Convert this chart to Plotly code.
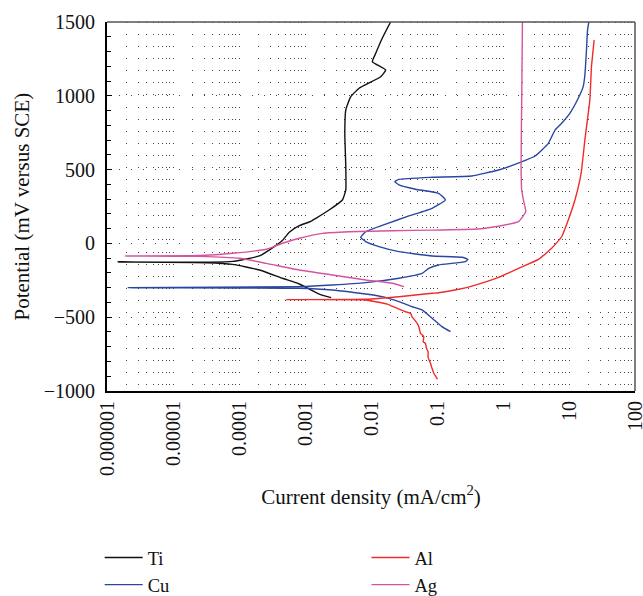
import plotly.graph_objects as go

# ---- data: current density (mA/cm^2) and potential (mV vs SCE) ----
ti_i = [2.49e-3, 1.64e-3, 1.16e-3, 8.18e-4, 4.54e-4, 2.04e-4, 7.98e-5, 3.23e-5, 1.47e-6,
        3.23e-5, 7.98e-5, 2.04e-4, 3.21e-4, 4.54e-4, 5.78e-4, 8.18e-4, 1.16e-3, 1.46e-3,
        2.32e-3, 3.69e-3, 4.15e-3, 4.15e-3, 4.01e-3, 4.15e-3, 4.94e-3, 6.59e-3, 1.40e-2,
        1.67e-2, 1.05e-2, 1.18e-2, 1.48e-2, 1.98e-2]
ti_e = [-367, -343, -309, -275, -236, -180, -142, -131, -126,
        -127, -122, -85, -30, 20, 75, 120, 145, 170,
        226, 294, 362, 520, 746, 904, 994, 1051, 1129,
        1175, 1231, 1288, 1390, 1500]

cu_i = [0.160, 0.119, 0.0841, 0.0594, 0.0420, 0.0265, 0.0148, 8.32e-3, 2.61e-3, 8.18e-4, 2.10e-6,
        8.18e-4, 2.61e-3, 8.32e-3, 0.0265, 0.0594, 0.0750, 0.106, 0.269, 0.294, 0.239,
        0.0841, 0.0265, 0.0132, 8.32e-3, 7.00e-3, 8.32e-3, 0.0167, 0.0375, 0.0841, 0.134,
        0.106, 0.0473, 0.0265, 0.0230, 0.0265, 0.0841, 0.338, 0.855, 1.82, 3.06,
        4.86, 6.14, 7.73, 10.3, 13.8, 16.4, 17.4, 18.4, 19.1, 20.0]
cu_e = [-598, -564, -507, -451, -429, -395, -361, -343, -316, -304, -300,
        -293, -282, -266, -236, -203, -169, -146, -124, -108, -94,
        -85, -56, -22, 12, 41, 79, 131, 186, 238, 294,
        339, 367, 396, 418, 434, 448, 457, 497, 549, 592,
        678, 768, 814, 881, 983, 1062, 1141, 1310, 1446, 1500]

al_i = [0.1016, 0.0948, 0.0893, 0.0841, 0.0796, 0.0733, 0.0733, 0.0692, 0.0668, 0.0617,
        0.0631, 0.0562, 0.0531, 0.0500, 0.0420, 0.0397, 0.0334, 0.0236, 0.0176, 0.0118,
        8.32e-3, 5.15e-4,
        8.32e-3, 0.0265, 0.0841, 0.106, 0.213, 0.338, 0.855, 1.71, 3.44, 5.46,
        7.73, 9.75, 12.3, 14.6, 15.5, 17.4, 20.7, 21.9, 23.2, 24.0]
al_e = [-919, -898, -880, -846, -812, -772, -734, -711, -677, -666,
        -632, -609, -564, -541, -497, -474, -463, -435, -411, -395,
        -383, -381,
        -378, -361, -338, -334, -311, -289, -230, -169, -108, -33,
        45, 159, 294, 429, 497, 701, 972, 1197, 1310, 1378]

ag_i = [0.0315, 0.0210, 8.32e-3, 2.61e-3, 8.18e-4, 2.58e-4, 1.02e-4, 2.54e-5, 1.87e-6,
        2.54e-5, 8.05e-5, 2.58e-4, 4.58e-4, 8.18e-4, 1.84e-3, 4.66e-3, 0.0210, 0.0841,
        0.427, 0.604, 1.71, 2.21, 2.04, 1.92, 1.88, 1.92, 1.97]
ag_e = [-293, -270, -248, -214, -180, -135, -101, -88, -85,
        -82, -67, -40, 1, 35, 68, 79, 86, 90,
        98, 106, 147, 215, 294, 362, 520, 972, 1500]

x_tickvals = [1e-6, 1e-5, 1e-4, 1e-3, 1e-2, 1e-1, 1, 10, 100]
x_ticktext = ["0.000001", "0.00001", "0.0001", "0.001", "0.01", "0.1", "1", "10", "100"]
y_tickvals = [-1000, -500, 0, 500, 1000, 1500]

# minor (log) grid positions: 1..9 within each decade
minor_x = [m * d for d in x_tickvals[:-1] for m in range(1, 10)] + [100]

series = [
    ("Ti", ti_i, ti_e, "#111111", "legend"),
    ("Cu", cu_i, cu_e, "#2b46a2", "legend"),
    ("Al", al_i, al_e, "#ef2b2b", "legend2"),
    ("Ag", ag_i, ag_e, "#d6549f", "legend2"),
]

FONT = "Liberation Serif"
fig = go.Figure()
for name, xi, ye, col, lg in series:
    fig.add_trace(go.Scatter(x=xi, y=ye, mode="lines", name=name, legend=lg,
                             line=dict(color=col, width=1.4, shape="spline", smoothing=0.4)))

grid_col = "#444444"
dash = "1px,11.08px"
leg_common = dict(xref="container", yref="container", y=0.0956, xanchor="left",
                  yanchor="top", font=dict(family=FONT, size=18.5), itemwidth=38,
                  bgcolor="rgba(0,0,0,0)", tracegroupgap=0)
fig.update_layout(
    width=643, height=596,
    margin=dict(l=107, r=8, t=22, b=205, autoexpand=False),
    paper_bgcolor="white", plot_bgcolor="white",
    font=dict(family=FONT, size=20, color="#111111"),
    showlegend=True,
    legend=dict(x=0.155, **leg_common),
    legend2=dict(x=0.570, **leg_common),
    xaxis=dict(type="log", range=[-6, 2],
               tickmode="array", tickvals=x_tickvals, ticktext=x_ticktext,
               tickangle=-90, ticks="", ticklabeloverflow="allow",
               showline=True, linecolor="black", linewidth=2,
               showgrid=True, gridcolor=grid_col, gridwidth=1, griddash=dash,
               minor=dict(tickmode="array", tickvals=minor_x, showgrid=True,
                          gridcolor=grid_col, gridwidth=1, griddash=dash, ticks=""),
               zeroline=False,
               title=dict(text="Current density (mA/cm<sup>2</sup>)",
                          font=dict(family=FONT, size=21), standoff=14),
               tickfont=dict(family=FONT, size=20)),
    yaxis=dict(range=[-1000, 1500], tickmode="array", tickvals=y_tickvals,
               ticks="inside", ticklen=5, tickcolor="black",
               showline=True, linecolor="black", linewidth=2,
               showgrid=True, gridcolor=grid_col, gridwidth=1, griddash=dash,
               minor=dict(dtick=100, tick0=0, ticks="inside", ticklen=4,
                          tickcolor="black", showgrid=False),
               zeroline=False, ticklabelstandoff=6,
               tickfont=dict(family=FONT, size=20)),
    annotations=[
        dict(text="Potential (mV versus SCE)", xref="paper", yref="paper",
             x=-0.161, y=0.5, xanchor="center", yanchor="middle", textangle=-90,
             showarrow=False, font=dict(family=FONT, size=21, color="#111111")),
    ],
    shapes=[
        dict(type="line", xref="paper", yref="paper", x0=0, x1=1, y0=1, y1=1,
             line=dict(color="#555555", width=1.5), layer="above"),
        dict(type="line", xref="paper", yref="paper", x0=1, x1=1, y0=0, y1=1,
             line=dict(color="#555555", width=1.5), layer="above"),
    ],
)

fig.write_html("out.html")
